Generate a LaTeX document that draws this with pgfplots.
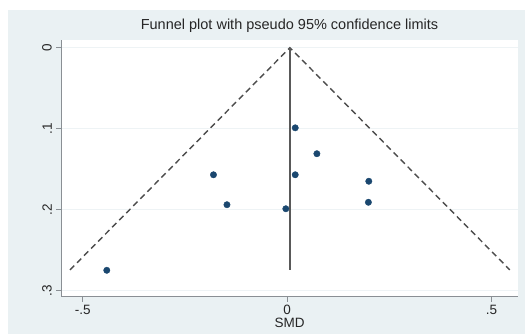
\documentclass[border=0pt]{standalone}
\usepackage{fontspec}
\setmainfont{Liberation Sans}
\usepackage{pgfplots}
\pgfplotsset{compat=1.18}
\definecolor{bgc}{HTML}{EAF1F3}
\definecolor{gridc}{HTML}{EEF3F5}
\definecolor{navy}{HTML}{1A476F}
\definecolor{axc}{HTML}{8A8F94}
\begin{document}
\begin{tikzpicture}[x=1pt,y=1pt]
\useasboundingbox (0,0) rectangle (525,334);
\fill[white] (0,0) rectangle (525,334);
\fill[bgc] (8,0) rectangle (525,324);
\begin{axis}[
  at={(61pt,37pt)}, anchor=south west,
  scale only axis, width=457pt, height=257pt,
  xmin=-0.553, xmax=0.565, ymin=-0.0095, ymax=0.308,
  y dir=reverse,
  axis background/.style={fill=white},
  axis line style={draw=none},
  xtick={-0.5,0,0.5}, xticklabels={-.5,0,.5},
  ytick={0,0.1,0.2,0.3}, yticklabels={0,.1,.2,.3},
  xtick pos=left, ytick pos=left,
  tick align=outside, major tick length=5pt,
  tick style={axc, line width=0.8pt},
  ymajorgrids, grid style={gridc, line width=0.8pt},
  every tick label/.append style={font=\fontsize{13.5}{15}\selectfont, text=black!85},
  yticklabel style={rotate=90, anchor=south, inner sep=0pt},
  xticklabel style={anchor=north, inner sep=0pt, yshift=-3pt},
  yticklabel shift=4pt,
  xlabel={SMD},
  xlabel style={at={(axis description cs:0.5,0)}, anchor=north, inner sep=0pt, yshift=-21pt, font=\fontsize{13.5}{15}\selectfont, text=black!85},
  title={Funnel plot with pseudo 95\% confidence limits},
  title style={at={(axis description cs:0.5,1)}, anchor=center, yshift=8pt, inner sep=0pt, font=\fontsize{14.5}{16}\selectfont, text=black!85},
  clip=false,
]
\addplot[draw=black!70, line width=1.4pt, dash pattern=on 6pt off 4pt] coordinates {(-0.531,0.2745) (0.007,0) (0.545,0.2745)};
\addplot[draw=black!65, line width=1.6pt] coordinates {(0.007,0) (0.007,0.2745)};
\addplot[only marks, mark=*, mark size=3.2pt, mark options={fill=navy, draw=navy}] table {
x y
0.020 0.099
0.073 0.131
-0.180 0.157
0.020 0.157
0.200 0.165
-0.147 0.194
0.199 0.191
-0.003 0.199
-0.441 0.275
};
\draw[axc, line width=1pt] (axis description cs:0,0) -- (axis description cs:1,0);
\draw[axc, line width=1pt] (axis description cs:0,0) -- (axis description cs:0,1);
\end{axis}
\end{tikzpicture}
\end{document}
